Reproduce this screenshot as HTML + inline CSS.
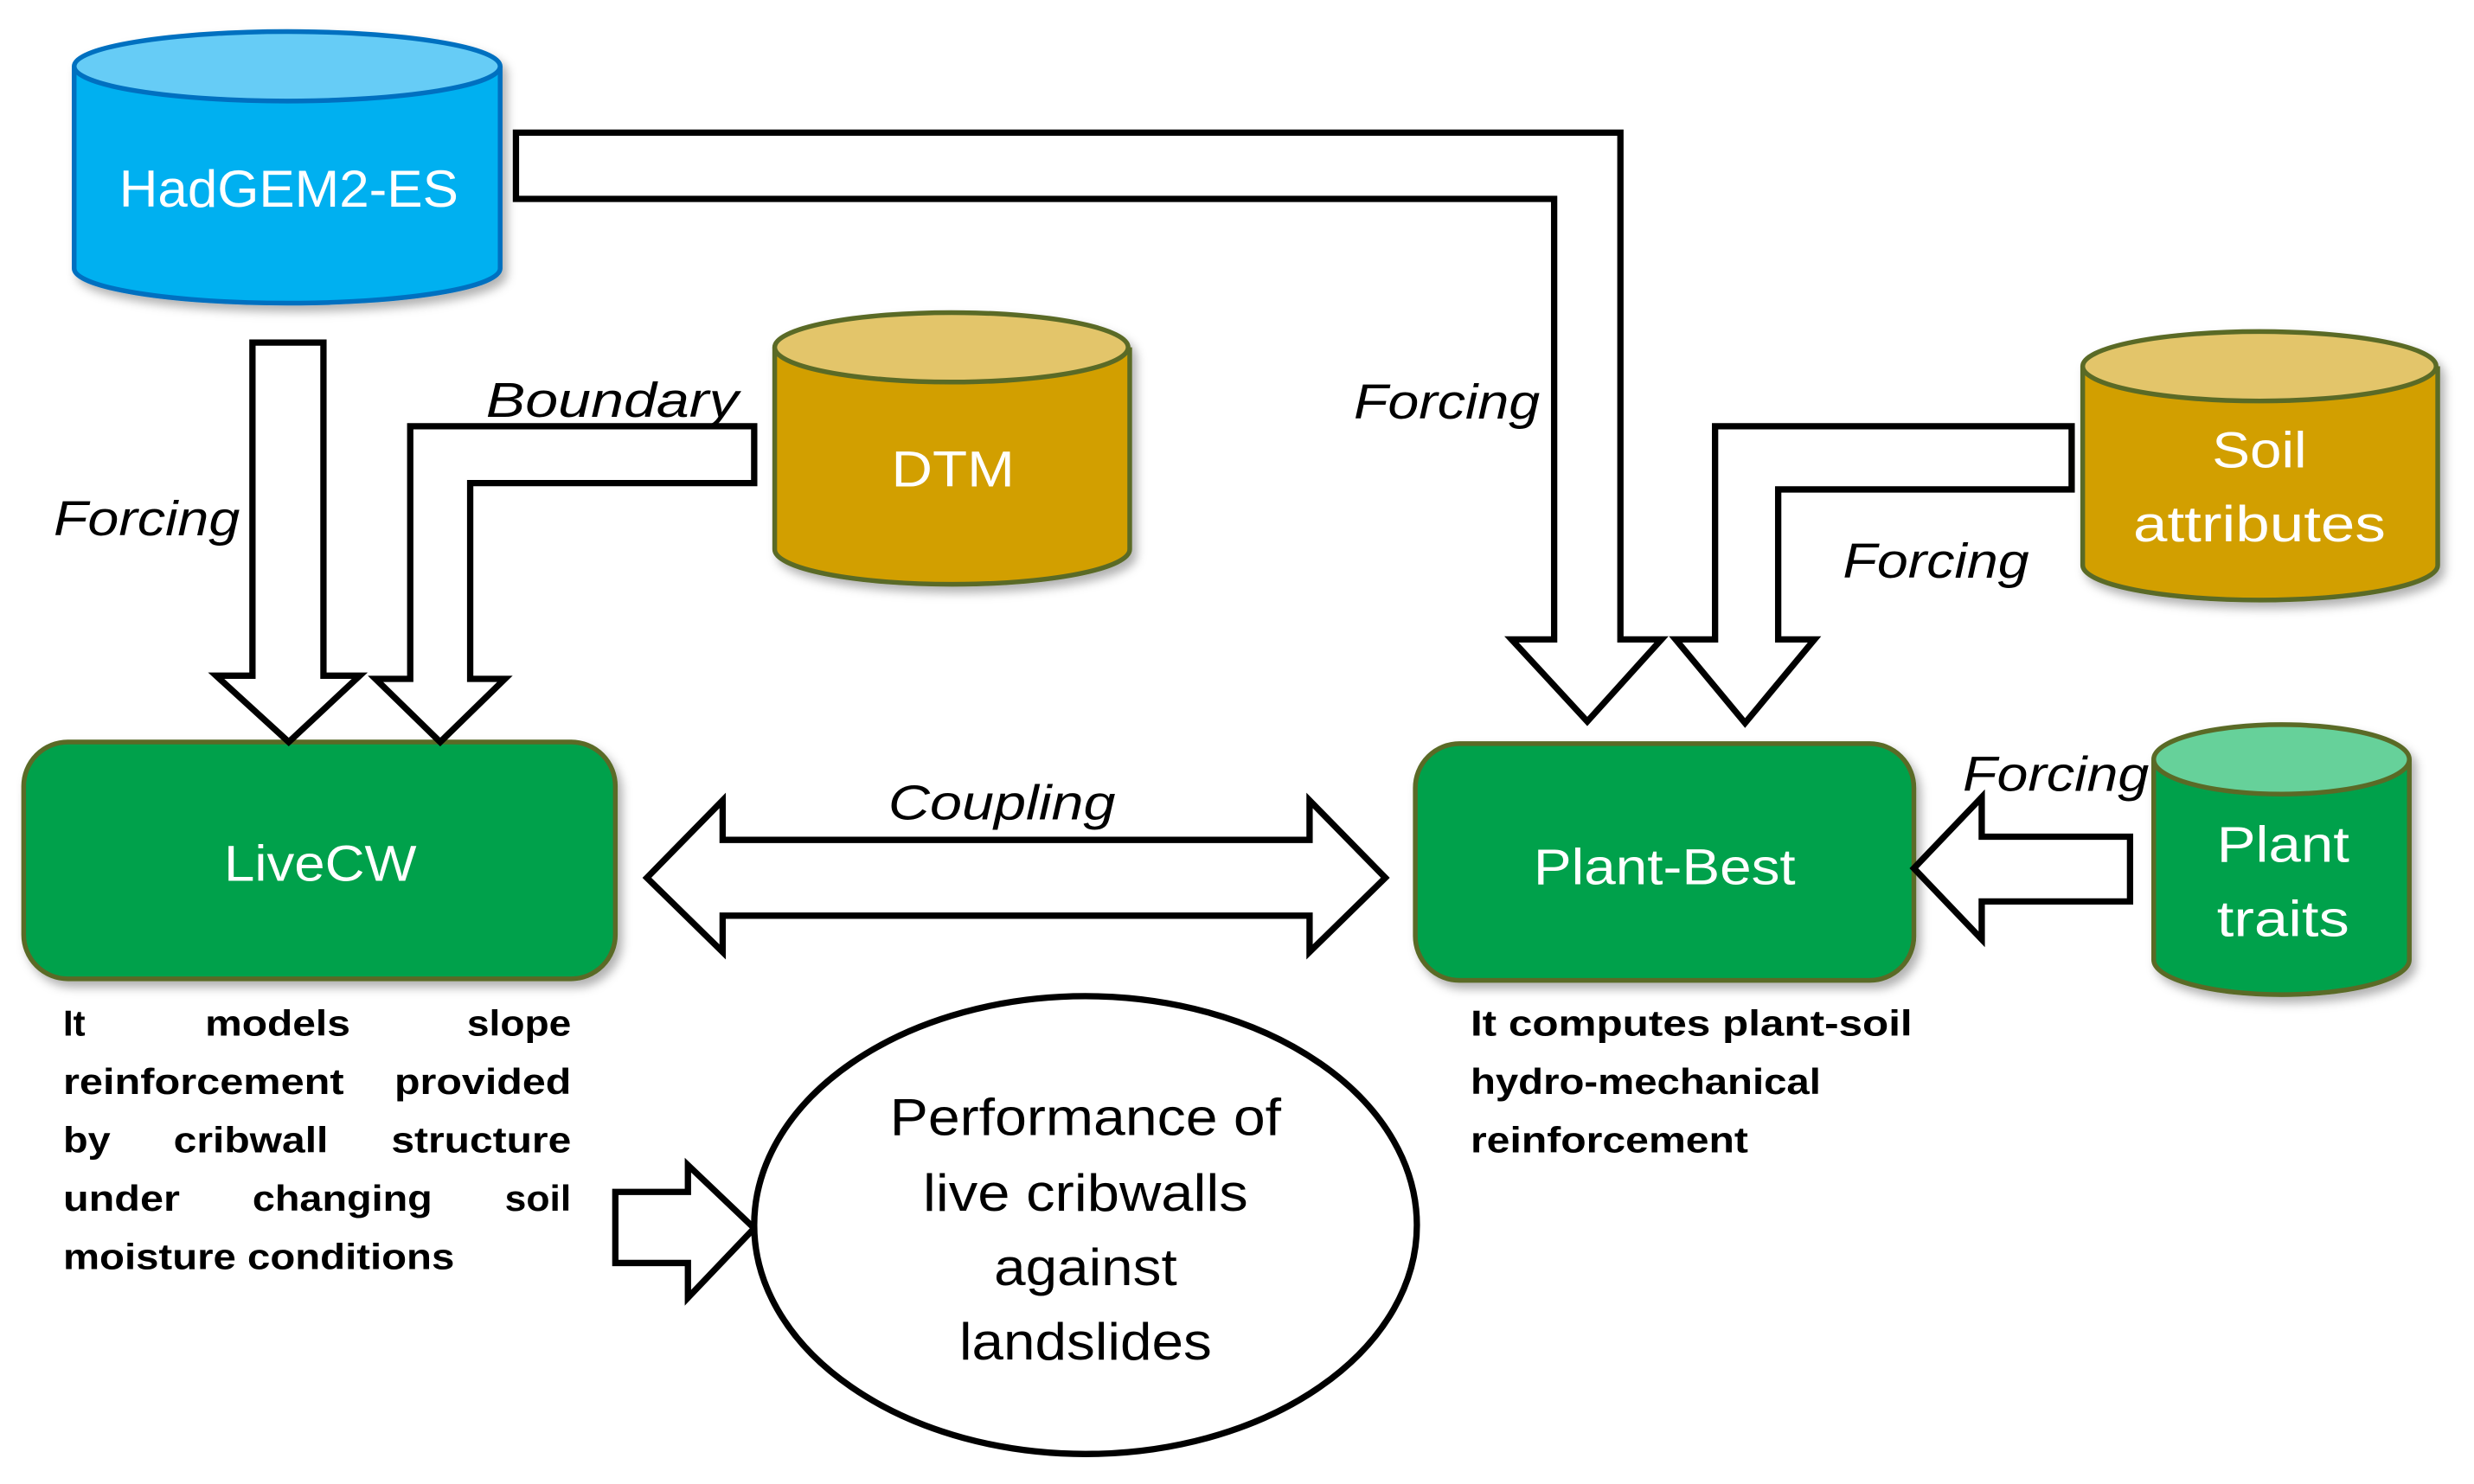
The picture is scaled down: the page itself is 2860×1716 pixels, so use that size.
<!DOCTYPE html>
<html><head><meta charset="utf-8"><style>
html,body{margin:0;padding:0;background:#fff;}
svg{display:block;}
text{font-family:"Liberation Sans",sans-serif;}
</style></head><body>
<svg width="2860" height="1716" viewBox="0 0 1568 940" preserveAspectRatio="none" xmlns="http://www.w3.org/2000/svg">
<defs>
<filter id="sh" x="-10%" y="-10%" width="130%" height="130%"><feDropShadow dx="3" dy="4" stdDeviation="3" flood-color="#000" flood-opacity="0.3"/></filter>
</defs>
<rect width="1568" height="940" fill="#fff"/>
<!-- HadGEM2-ES cylinder -->
<g filter="url(#sh)">
<path d="M47,42 V170 A135,22 0 0 0 317,170 V42" fill="#00b0f0" stroke="#0070c0" stroke-width="3"/>
<ellipse cx="182" cy="42" rx="135" ry="22" fill="#66ccf6" stroke="#0070c0" stroke-width="3"/>
</g>
<text x="183" y="131" font-size="33" fill="#fff" text-anchor="middle" textLength="215" lengthAdjust="spacingAndGlyphs">HadGEM2-ES</text>
<!-- DTM -->
<g filter="url(#sh)">
<path d="M491,220 V348 A112,22 0 0 0 716,348 V220" fill="#d29f00" stroke="#5a6a28" stroke-width="3"/>
<ellipse cx="603" cy="220" rx="112" ry="22" fill="#e3c56a" stroke="#5a6a28" stroke-width="3"/>
</g>
<text x="604" y="308" font-size="32" fill="#fff" text-anchor="middle" textLength="78" lengthAdjust="spacingAndGlyphs">DTM</text>
<!-- Soil attributes -->
<g filter="url(#sh)">
<path d="M1320,232 V358 A112,22 0 0 0 1545,358 V232" fill="#d29f00" stroke="#5a6a28" stroke-width="3"/>
<ellipse cx="1432" cy="232" rx="112" ry="22" fill="#e3c56a" stroke="#5a6a28" stroke-width="3"/>
</g>
<text x="1432" y="296" font-size="32" fill="#fff" text-anchor="middle" textLength="60" lengthAdjust="spacingAndGlyphs">Soil</text>
<text x="1432" y="343" font-size="32" fill="#fff" text-anchor="middle" textLength="160" lengthAdjust="spacingAndGlyphs">attributes</text>
<!-- Plant traits -->
<g filter="url(#sh)">
<path d="M1365,481 V608 A81,22 0 0 0 1527,608 V481" fill="#00a14b" stroke="#5a6a28" stroke-width="3"/>
<ellipse cx="1446" cy="481" rx="81" ry="22" fill="#66d19a" stroke="#5a6a28" stroke-width="3"/>
</g>
<text x="1447" y="546" font-size="32" fill="#fff" text-anchor="middle" textLength="84" lengthAdjust="spacingAndGlyphs">Plant</text>
<text x="1447" y="593" font-size="32" fill="#fff" text-anchor="middle" textLength="84" lengthAdjust="spacingAndGlyphs">traits</text>
<!-- boxes -->
<rect x="15" y="470" width="375" height="150" rx="28" fill="#00a14b" stroke="#5a6a28" stroke-width="3" filter="url(#sh)"/>
<text x="203" y="558" font-size="32" fill="#fff" text-anchor="middle" textLength="122" lengthAdjust="spacingAndGlyphs">LiveCW</text>
<rect x="897" y="471" width="316" height="150" rx="28" fill="#00a14b" stroke="#5a6a28" stroke-width="3" filter="url(#sh)"/>
<text x="1055" y="560" font-size="32" fill="#fff" text-anchor="middle" textLength="166" lengthAdjust="spacingAndGlyphs">Plant-Best</text>
<!-- arrows -->
<g fill="#fff" stroke="#000" stroke-width="4" stroke-linejoin="miter">
<path d="M327,84 H1027 V405 H1053 L1006,457 L958,405 H985 V126 H327 Z"/>
<path d="M160,217 H205 V428 H228 L183,470 L137,428 H160 Z"/>
<path d="M478,270 V306 H298 V430 H320 L279,470 L238,430 H260 V270 Z"/>
<path d="M1313,270 V310 H1127 V405 H1150 L1106,458 L1062,405 H1087 V270 Z"/>
<path d="M410,556 L458,507 V532 H830 V507 L878,556 L830,603 V580 H458 V603 Z"/>
<path d="M1350,530 V571 H1256 V595 L1213,550 L1256,505 V530 Z"/>
<path d="M390,755 H436 V738 L478,778 L436,822 V800 H390 Z"/>
<ellipse cx="688" cy="776" rx="210" ry="145"/>
</g>
<!-- labels -->
<g font-style="italic" font-size="31" fill="#000">
<text x="93" y="339" text-anchor="middle" textLength="118" lengthAdjust="spacingAndGlyphs">Forcing</text>
<text x="388" y="264" text-anchor="middle" textLength="160" lengthAdjust="spacingAndGlyphs">Boundary</text>
<text x="917" y="265" text-anchor="middle" textLength="118" lengthAdjust="spacingAndGlyphs">Forcing</text>
<text x="1227" y="366" text-anchor="middle" textLength="118" lengthAdjust="spacingAndGlyphs">Forcing</text>
<text x="1303" y="501" text-anchor="middle" textLength="118" lengthAdjust="spacingAndGlyphs">Forcing</text>
<text x="635" y="519" text-anchor="middle" textLength="144" lengthAdjust="spacingAndGlyphs">Coupling</text>
</g>
<g font-size="33" fill="#000" text-anchor="middle">
<text x="688" y="719" textLength="248" lengthAdjust="spacingAndGlyphs">Performance of</text>
<text x="688" y="767" textLength="206" lengthAdjust="spacingAndGlyphs">live cribwalls</text>
<text x="688" y="814" textLength="116" lengthAdjust="spacingAndGlyphs">against</text>
<text x="688" y="861" textLength="160" lengthAdjust="spacingAndGlyphs">landslides</text>
</g>
<g font-size="23" font-weight="bold" fill="#000">
<text x="40" y="656">It</text>
<text x="176" y="656" text-anchor="middle" textLength="92" lengthAdjust="spacingAndGlyphs">models</text>
<text x="362" y="656" text-anchor="end" textLength="66" lengthAdjust="spacingAndGlyphs">slope</text>
<text x="40" y="693" textLength="178" lengthAdjust="spacingAndGlyphs">reinforcement</text>
<text x="362" y="693" text-anchor="end" textLength="112" lengthAdjust="spacingAndGlyphs">provided</text>
<text x="40" y="730" textLength="30" lengthAdjust="spacingAndGlyphs">by</text>
<text x="110" y="730" textLength="98" lengthAdjust="spacingAndGlyphs">cribwall</text>
<text x="362" y="730" text-anchor="end" textLength="114" lengthAdjust="spacingAndGlyphs">structure</text>
<text x="40" y="767" textLength="74" lengthAdjust="spacingAndGlyphs">under</text>
<text x="160" y="767" textLength="114" lengthAdjust="spacingAndGlyphs">changing</text>
<text x="362" y="767" text-anchor="end" textLength="42" lengthAdjust="spacingAndGlyphs">soil</text>
<text x="40" y="804" textLength="248" lengthAdjust="spacingAndGlyphs">moisture conditions</text>
<text x="932" y="656" textLength="280" lengthAdjust="spacingAndGlyphs">It computes plant-soil</text>
<text x="932" y="693" textLength="222" lengthAdjust="spacingAndGlyphs">hydro-mechanical</text>
<text x="932" y="730" textLength="176" lengthAdjust="spacingAndGlyphs">reinforcement</text>
</g>
</svg>
</body></html>
